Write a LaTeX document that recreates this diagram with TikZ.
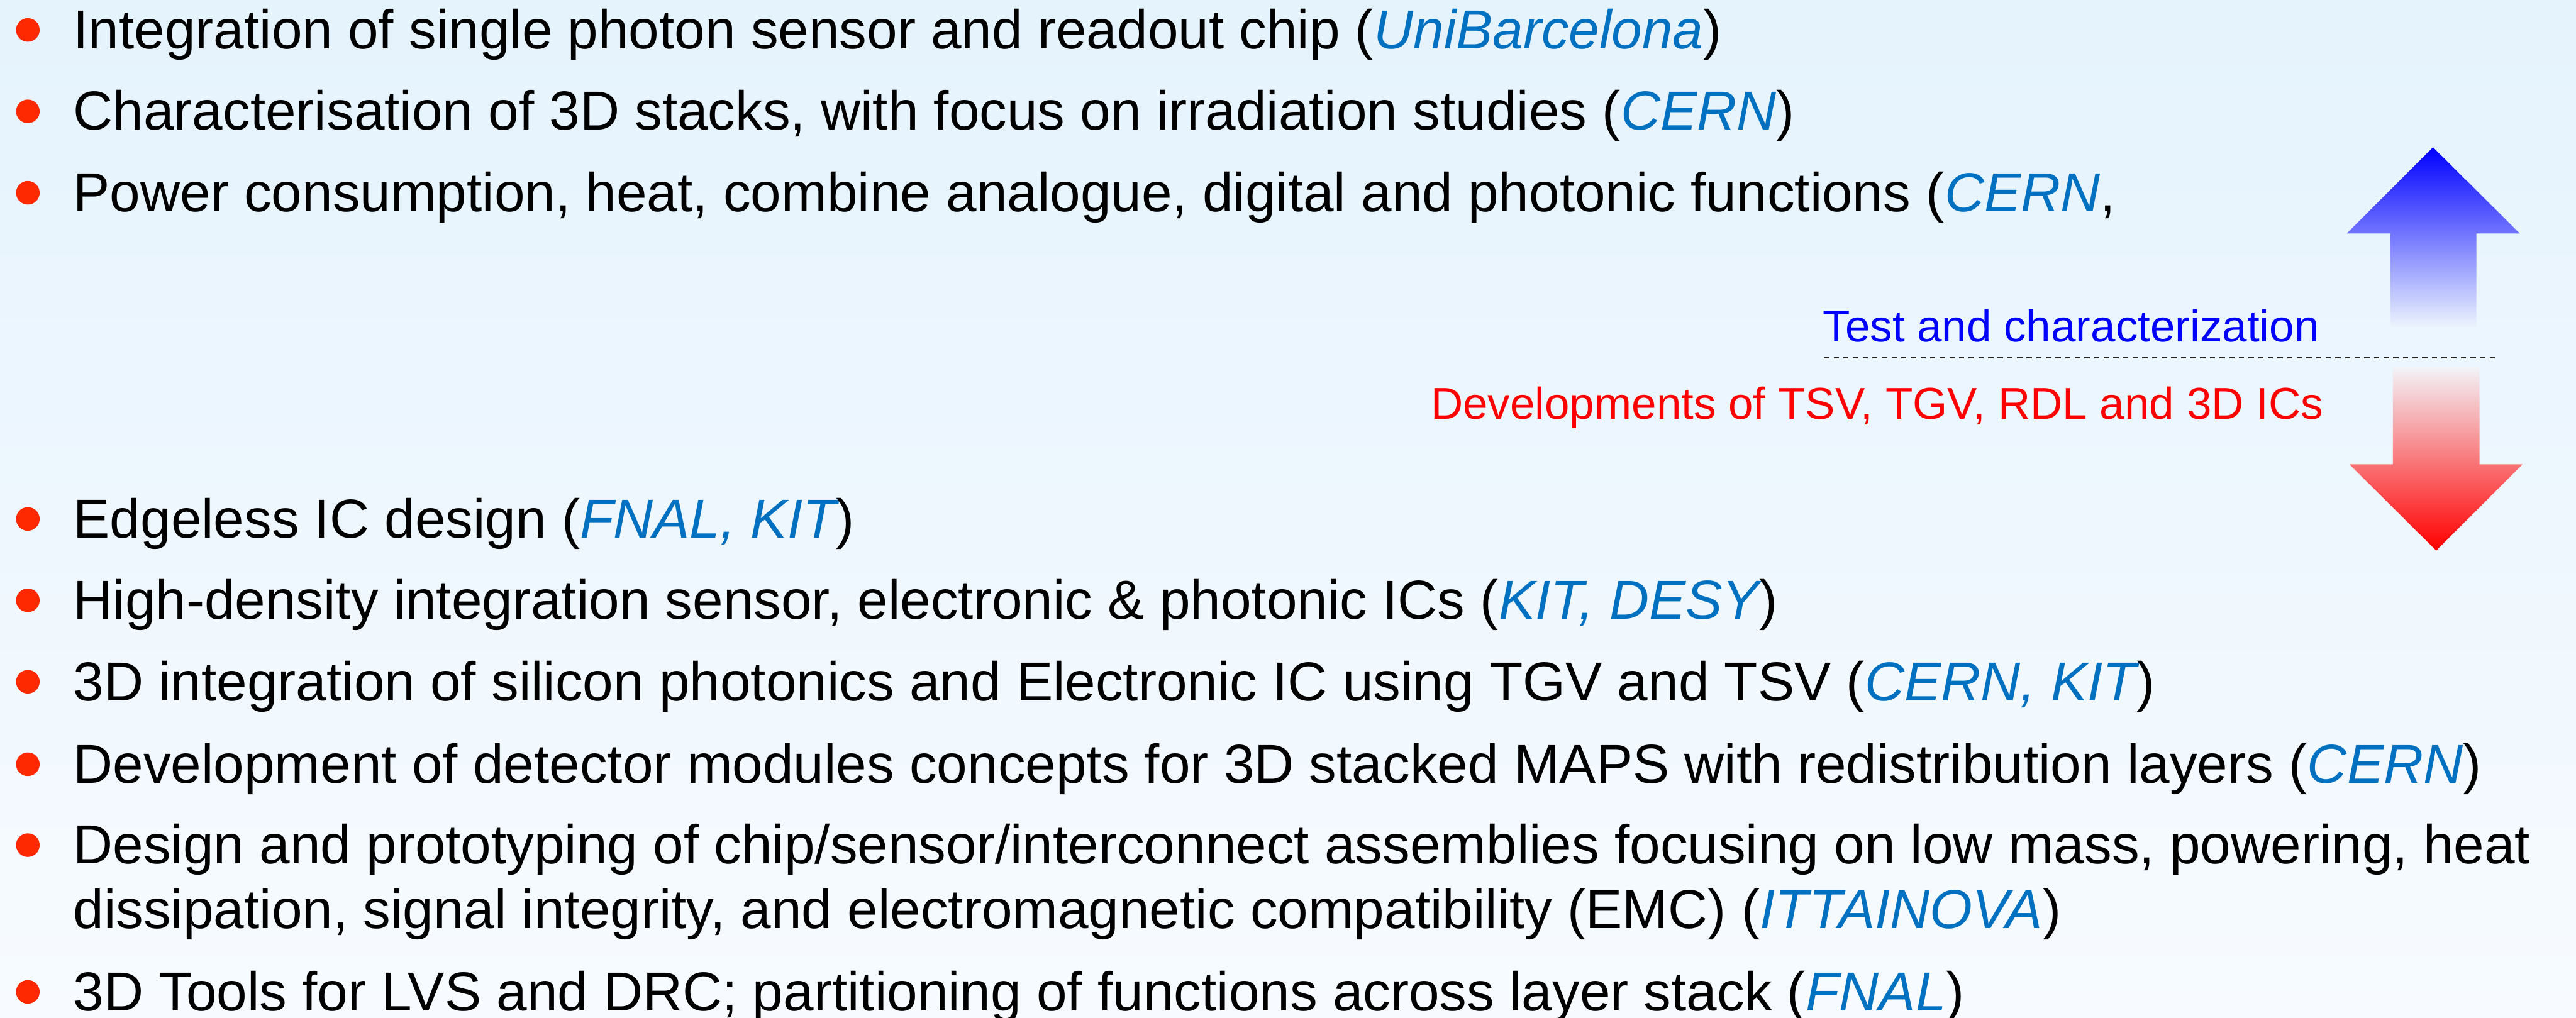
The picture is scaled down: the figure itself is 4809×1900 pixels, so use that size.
\documentclass[tikz,border=0pt]{standalone}
\usepackage{fontspec}
\setmainfont{Liberation Sans}

\definecolor{bgtop}{RGB}{229,243,253}
\definecolor{bgbot}{RGB}{247,251,255}
\definecolor{instblue}{RGB}{0,112,192}
\definecolor{dotred}{RGB}{255,41,0}
\definecolor{upfade}{RGB}{238,246,253}
\definecolor{downfade}{RGB}{242,244,249}

% institute names in blue italics
\newcommand{\orgname}[1]{\textcolor{instblue}{\itshape #1}}

\begin{document}
\begin{tikzpicture}[x=0.01cm,y=-0.01cm,
  item/.style={anchor=base west,inner sep=0pt,outer sep=0pt,
    font=\fontsize{29.15}{34}\selectfont},
  bulletdot/.style={circle,fill=dotred,inner sep=0pt,minimum size=0.44cm},
  sidelabel/.style={anchor=base west,inner sep=0pt,outer sep=0pt,
    font=\fontsize{23.7}{28}\selectfont},
  separator/.style={dash pattern=on 0.1cm off 0.08cm,line width=0.8pt,black!85}]

\useasboundingbox (0,0) rectangle (4809,1900);
\fill[top color=bgtop,bottom color=bgbot] (0,0) rectangle (4809,1900);

% ---- upper list ----
\node[bulletdot] (b1) at (52,56) {};
\node[item] (t1) at (137,91) {Integration of single photon sensor and readout chip (\orgname{UniBarcelona})};
\node[bulletdot] (b2) at (52,208) {};
\node[item] (t2) at (137,243) {Characterisation of 3D stacks, with focus on irradiation studies (\orgname{CERN})};
\node[bulletdot] (b3) at (52,360) {};
\node[item] (t3) at (137,395) {Power consumption, heat, combine analogue, digital and photonic functions (\orgname{CERN},};

% ---- lower list ----
\node[bulletdot] (b4) at (52,969) {};
\node[item] (t4) at (137,1004) {Edgeless IC design (\orgname{FNAL, KIT})};
\node[bulletdot] (b5) at (52,1121) {};
\node[item] (t5) at (137,1156) {High-density integration sensor, electronic \& photonic ICs (\orgname{KIT, DESY})};
\node[bulletdot] (b6) at (52,1273) {};
\node[item] (t6) at (137,1308) {3D integration of silicon photonics and Electronic IC using TGV and TSV (\orgname{CERN, KIT})};
\node[bulletdot] (b7) at (52,1427) {};
\node[item] (t7) at (137,1462) {Development of detector modules concepts for 3D stacked MAPS with redistribution layers (\orgname{CERN})};
\node[bulletdot] (b8) at (52,1578) {};
\node[item] (t8) at (137,1613) {Design and prototyping of chip/sensor/interconnect assemblies focusing on low mass, powering, heat};
\node[item] (t8b) at (137,1733) {dissipation, signal integrity, and electromagnetic compatibility (EMC) (\orgname{ITTAINOVA})};
\node[bulletdot] (b9) at (52,1852) {};
\node[item] (t9) at (137,1887) {3D Tools for LVS and DRC; partitioning of functions across layer stack (\orgname{FNAL})};

% ---- side labels and separator ----
\node[sidelabel,text=blue] (test) at (3403,638) {Test and characterization};
\node[sidelabel,text=red] (dev) at (2671,783) {Developments of TSV, TGV, RDL and 3D ICs};
\coordinate (sepL) at (3405,668);
\coordinate (sepR) at (4664,668);
\draw[separator] (sepL) -- (sepR);

% ---- up arrow (blue, fading downwards) ----
\shade[top color=blue,bottom color=upfade]
  (4542,275) -- (4704,436) -- (4623,436) -- (4623,613) -- (4462,613)
  -- (4462,436) -- (4381,436) -- cycle;

% ---- down arrow (red, fading upwards) ----
\shade[top color=downfade,bottom color=red]
  (4467,685) -- (4629,685) -- (4629,867) -- (4709,867) -- (4548,1028)
  -- (4386,867) -- (4467,867) -- cycle;

\end{tikzpicture}
\end{document}
